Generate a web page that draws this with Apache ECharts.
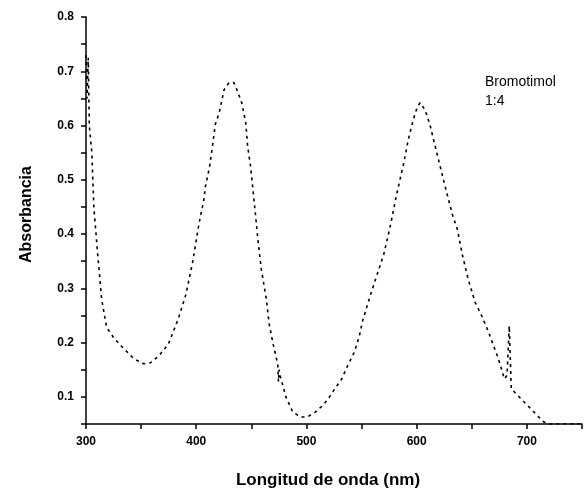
<!DOCTYPE html>
<html>
<head>
<meta charset="utf-8">
<script src="https://cdn.jsdelivr.net/npm/echarts@6/dist/echarts.min.js"></script>
<style>html,body{margin:0;padding:0;background:#fff;}#c{width:585px;height:494px;}</style>
</head>
<body>
<div id="c"></div>
<script>
const wavelength = [300,301,302,303,305.3,307.1,310.7,314.2,318.7,325.8,334.7,343.6,352.4,358.7,365.8,374.7,383.6,390.7,396.9,401.3,404.0,406.7,408.4,412.0,414.7,417.3,420.9,425.3,429.8,434.2,436.9,441.3,444.9,446.7,449.3,453.8,456.4,459.1,463.6,466.2,469.8,474.0,474.6,475.2,476.0,478.7,481.3,487.6,494.7,500.9,508.0,514.2,519.6,525.8,532.0,537.3,543.6,548.0,550.7,554.2,556.9,561.3,570.2,576.4,581.8,588.0,592.4,596.9,600.4,603.1,607.6,612.0,616.4,620.9,625.3,632.4,636.9,641.3,646.7,652.9,659.1,665.3,669.8,674.2,679.6,682.0,684.0,685.8,692.0,697.3,703.6,709.8,715.1,721.3,730,743.6,750];
const absorbance = [0.730,0.650,0.725,0.600,0.550,0.450,0.360,0.280,0.228,0.207,0.188,0.170,0.161,0.163,0.175,0.197,0.243,0.289,0.350,0.405,0.435,0.460,0.488,0.523,0.561,0.602,0.624,0.666,0.679,0.679,0.666,0.642,0.606,0.561,0.525,0.435,0.381,0.335,0.280,0.234,0.197,0.160,0.128,0.150,0.140,0.120,0.100,0.072,0.063,0.063,0.072,0.083,0.096,0.115,0.133,0.157,0.183,0.212,0.238,0.262,0.280,0.308,0.363,0.418,0.473,0.528,0.574,0.611,0.633,0.642,0.629,0.602,0.565,0.528,0.492,0.436,0.409,0.363,0.317,0.275,0.249,0.219,0.194,0.170,0.133,0.140,0.231,0.115,0.102,0.091,0.078,0.065,0.054,0.050,0.050,0.050,0.050];
const xTicks = [300,400,500,600,700];
const yTicks = [0.1,0.2,0.3,0.4,0.5,0.6,0.7,0.8];
const legendLines = ['Bromotimol','1:4'];
const xTitle = 'Longitud de onda (nm)';
const yTitle = 'Absorbancia';

const chart = echarts.init(document.getElementById('c'));
const data = wavelength.map((w,i)=>[w,absorbance[i]]);
const font = 'Liberation Sans, Arial, sans-serif';
chart.setOption({
  animation:false,
  backgroundColor:'#fff',
  grid:{left:86,right:-7,top:17,bottom:69},
  xAxis:{
    type:'value',min:300,max:750,interval:50,
    name:xTitle,nameLocation:'middle',nameGap:48,
    nameTextStyle:{color:'#000',fontSize:17,fontFamily:font,fontWeight:'bold',padding:[0,12,0,0]},
    axisLine:{lineStyle:{color:'#000',width:1.5}},
    axisTick:{length:5,lineStyle:{color:'#000',width:1.5}},
    axisLabel:{color:'#000',fontSize:12,fontFamily:font,fontWeight:'bold',margin:12,
      formatter:v=>xTicks.includes(v)?String(v):''},
    splitLine:{show:false}
  },
  yAxis:{
    type:'value',min:0.05,max:0.8,interval:0.05,
    name:yTitle,nameLocation:'middle',nameGap:51,nameRotate:90,
    nameTextStyle:{color:'#000',fontSize:16,fontFamily:font,fontWeight:'bold',padding:[0,0,0,12]},
    axisLine:{lineStyle:{color:'#000',width:1.5}},
    axisTick:{length:5,lineStyle:{color:'#000',width:1.5}},
    axisLabel:{color:'#000',fontSize:12,fontFamily:font,fontWeight:'bold',margin:12,
      formatter:v=>{const r=Math.round(v*100)/100;return yTicks.some(t=>Math.abs(t-r)<1e-6)?r.toFixed(1):'';}},
    splitLine:{show:false}
  },
  graphic:[
    {type:'text',left:485,top:73,style:{text:legendLines.join('\n'),fill:'#000',font:'14px '+font,lineHeight:19}}
  ],
  series:[{
    type:'line',data:data,showSymbol:false,smooth:false,
    lineStyle:{color:'#000',width:1.6,type:[3,4]}
  }]
});
</script>
</body>
</html>
